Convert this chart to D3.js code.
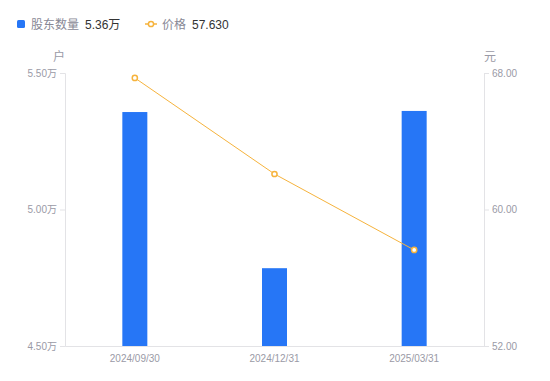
<!DOCTYPE html>
<html>
<head>
<meta charset="utf-8">
<script src="https://cdn.jsdelivr.net/npm/d3@7"></script>
<style>
  body { margin: 0; background: #fff; font-family: "Noto Sans CJK SC", "Liberation Sans", sans-serif; }
</style>
</head>
<body>
<div id="chart"></div>
<script>
// data
const categories = ["2024/09/30", "2024/12/31", "2025/03/31"];
const holders = [5.357, 4.785, 5.361];    // 万户
const prices = [67.71, 62.08, 57.63];     // 元
const leftTicks = [4.5, 5.0, 5.5];
const rightTicks = [52, 60, 68];

const width = 550, height = 381;
const margin = {top: 73, right: 66, bottom: 35, left: 65};
const plotW = width - margin.left - margin.right;
const plotH = height - margin.top - margin.bottom;

const svg = d3.select("#chart").append("svg")
  .attr("width", width)
  .attr("height", height);

const g = svg.append("g")
  .attr("transform", "translate(" + margin.left + "," + margin.top + ")");

const x = d3.scaleBand().domain(categories).range([0, plotW]);
const yL = d3.scaleLinear().domain([4.5, 5.5]).range([plotH, 0]);
const yR = d3.scaleLinear().domain([52, 68]).range([plotH, 0]);

const axisColor = "#e3e3e6";
const labelColor = "#9a9aa6";

// left axis
const gl = g.append("g")
  .call(d3.axisLeft(yL).tickValues(leftTicks).tickSize(5).tickPadding(3)
    .tickFormat(d => d3.format(".2f")(d) + "万"));
// right axis
const gr = g.append("g")
  .attr("transform", "translate(" + plotW + ",0)")
  .call(d3.axisRight(yR).tickValues(rightTicks).tickSize(5).tickPadding(3)
    .tickFormat(d3.format(".2f")));
// bottom axis
const gb = g.append("g")
  .attr("transform", "translate(0," + plotH + ")")
  .call(d3.axisBottom(x).tickSize(0).tickPadding(9));

[gl, gr, gb].forEach(a => {
  a.select(".domain").attr("stroke", axisColor);
  a.selectAll(".tick line").attr("stroke", axisColor);
  a.selectAll("text").attr("fill", labelColor)
    .style("font-family", "'Liberation Sans', 'Noto Sans CJK SC', sans-serif")
    .style("font-size", "10px");
});

// unit labels
g.append("text").attr("x", -6).attr("y", -12)
  .attr("text-anchor", "middle").attr("fill", labelColor)
  .style("font-size", "12px").text("户");
g.append("text").attr("x", plotW + 6).attr("y", -12)
  .attr("text-anchor", "middle").attr("fill", labelColor)
  .style("font-size", "12px").text("元");

// bars
const barW = 25;
g.selectAll("rect.bar")
  .data(holders)
  .enter()
  .append("rect")
  .attr("class", "bar")
  .attr("x", (d, i) => x(categories[i]) + x.bandwidth() / 2 - barW / 2)
  .attr("y", d => yL(d))
  .attr("width", barW)
  .attr("height", d => plotH - yL(d))
  .attr("fill", "#2676f6");

// price line
const lineColor = "#f6b33c";
const line = d3.line()
  .x((d, i) => x(categories[i]) + x.bandwidth() / 2)
  .y(d => yR(d));
g.append("path")
  .datum(prices)
  .attr("d", line)
  .attr("fill", "none")
  .attr("stroke", lineColor)
  .attr("stroke-width", 1);
g.selectAll("circle.pt")
  .data(prices)
  .enter()
  .append("circle")
  .attr("class", "pt")
  .attr("cx", (d, i) => x(categories[i]) + x.bandwidth() / 2)
  .attr("cy", d => yR(d))
  .attr("r", 2.6)
  .attr("fill", "#fff")
  .attr("stroke", lineColor)
  .attr("stroke-width", 1.5);

// legend
const lg = svg.append("g").attr("transform", "translate(0,24)");
lg.append("rect").attr("x", 17).attr("y", -4).attr("width", 8).attr("height", 8)
  .attr("rx", 1.5).attr("fill", "#2676f6");
lg.append("text").attr("x", 31).attr("y", 4.5).attr("fill", "#888895")
  .style("font-size", "12px").text("股东数量");
lg.append("text").attr("x", 85).attr("y", 4.5).attr("fill", "#333")
  .style("font-size", "12px").style("font-family", "'Liberation Sans', 'Noto Sans CJK SC', sans-serif")
  .text("5.36万");
lg.append("line").attr("x1", 145).attr("x2", 157).attr("y1", 0).attr("y2", 0)
  .attr("stroke", lineColor).attr("stroke-width", 1.5);
lg.append("circle").attr("cx", 151).attr("cy", 0).attr("r", 2.6)
  .attr("fill", "#fff").attr("stroke", lineColor).attr("stroke-width", 1.5);
lg.append("text").attr("x", 162).attr("y", 4.5).attr("fill", "#888895")
  .style("font-size", "12px").text("价格");
lg.append("text").attr("x", 192).attr("y", 4.5).attr("fill", "#333")
  .style("font-size", "12px").style("font-family", "'Liberation Sans', 'Noto Sans CJK SC', sans-serif")
  .text(d3.format(".3f")(prices[2]));
</script>
</body>
</html>
